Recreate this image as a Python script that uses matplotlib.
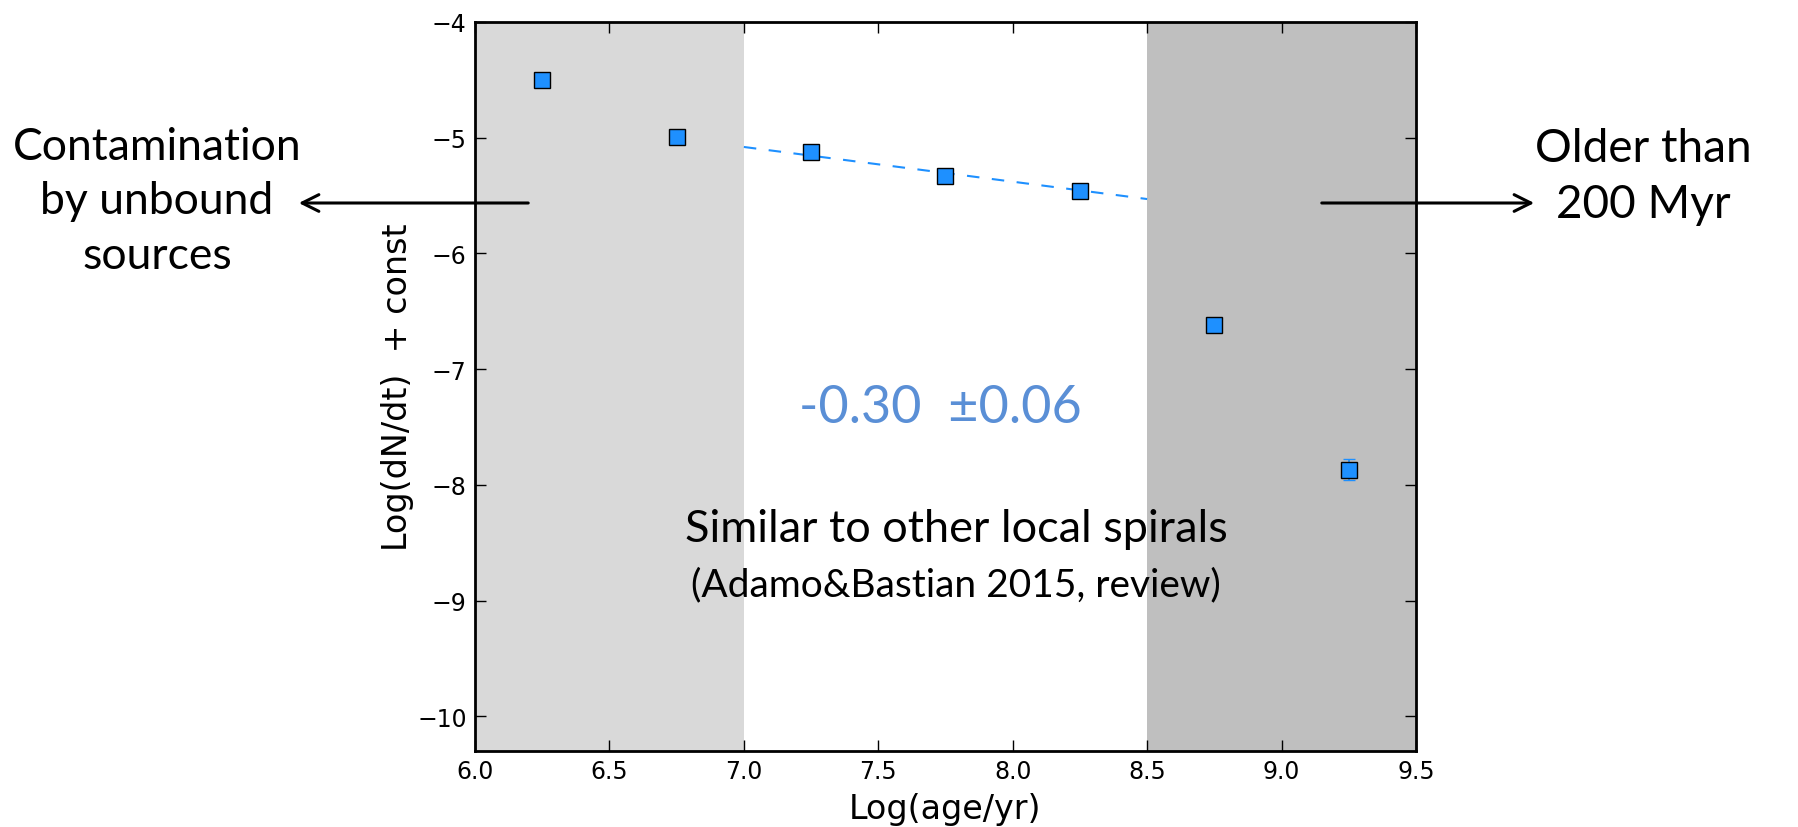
import matplotlib
matplotlib.use("Agg")
import matplotlib.pyplot as plt
import numpy as np

# data
log_age = [6.25, 6.75, 7.25, 7.75, 8.25, 8.75, 9.25]
log_dndt = [-4.50, -4.99, -5.12, -5.33, -5.46, -6.62, -7.87]
err = [0.03, 0.03, 0.03, 0.03, 0.03, 0.04, 0.09]

fit_range = [7.0, 8.5]
fit_slope = -0.30
fit_y0 = -5.08      # value of the fit at x = 7.0

young_band = [6.0, 7.0]
old_band = [8.5, 9.5]

xticks = [6.0, 6.5, 7.0, 7.5, 8.0, 8.5, 9.0, 9.5]
yticks = [-10, -9, -8, -7, -6, -5, -4]

W, H = 1798, 828
fig = plt.figure(figsize=(W / 100, H / 100), dpi=100)
ax = fig.add_axes([475 / W, 1 - 752 / H, (1416 - 475) / W, (752 - 23) / H])

# shaded age ranges
ax.axvspan(*young_band, color='#d9d9d9', lw=0, zorder=0)
ax.axvspan(*old_band, color='#bfbfbf', lw=0, zorder=0)

# power-law fit
xf = np.array(fit_range)
ax.plot(xf, fit_y0 + fit_slope * (xf - fit_range[0]), ls='--', color='dodgerblue',
        lw=1.5, dashes=(6, 6), zorder=2)

ax.errorbar(log_age, log_dndt, yerr=err, fmt='s', color='dodgerblue', ecolor='dodgerblue',
            mec='black', mew=1.0, ms=11, capsize=4, elinewidth=1.2, zorder=3)

ax.set_xlim(6.0, 9.5)
ax.set_ylim(-10.3, -4)
ax.set_xticks(xticks)
ax.set_yticks(yticks)
ax.tick_params(direction='in', top=True, right=True, length=8, width=1, labelsize=17, pad=6)
for s in ax.spines.values():
    s.set_linewidth(2)
ax.set_xlabel('Log(age/yr)', fontsize=24, labelpad=6)
ax.set_ylabel('Log(dN/dt)  + const', fontsize=24, labelpad=2)

# annotations in the slide font
tf = ['Lato', 'DejaVu Sans']
ax.text(7.73, -7.33, '-0.30  \u00b10.06', color='#5a8fd6', fontsize=37.5, family=tf,
        ha='center', va='center')
ax.text(7.79, -8.38, 'Similar to other local spirals', fontsize=32.5, family=tf,
        ha='center', va='center')
ax.text(7.79, -8.86, '(Adamo&Bastian 2015, review)', fontsize=28, family=tf,
        ha='center', va='center')

fig.text(157 / W, 1 - 202 / H, 'Contamination\nby unbound\nsources', fontsize=32,
         family=tf, ha='center', va='center', linespacing=1.4)
fig.text(1643 / W, 1 - 177 / H, 'Older than\n200 Myr', fontsize=33,
         family=tf, ha='center', va='center', linespacing=1.4)

arrow = dict(arrowstyle='->', lw=2.2, color='black', mutation_scale=30)
ay = 1 - 204 / H
fig.add_artist(matplotlib.patches.FancyArrowPatch((531 / W, ay), (296 / W, ay),
               transform=fig.transFigure, **arrow))
fig.add_artist(matplotlib.patches.FancyArrowPatch((1319 / W, ay), (1537 / W, ay),
               transform=fig.transFigure, **arrow))

fig.savefig('out.png', dpi=100)
